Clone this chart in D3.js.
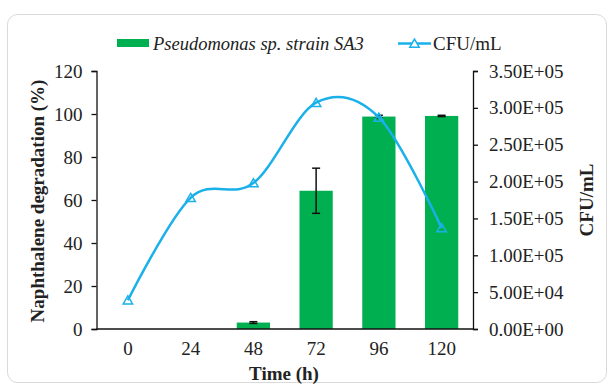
<!DOCTYPE html>
<html>
<head>
<meta charset="utf-8">
<script src="https://cdn.jsdelivr.net/npm/d3@7"></script>
</head>
<body style="margin:0">
<svg id="chart" width="609" height="387"></svg>
<script>
// data
const times = ['0', '24', '48', '72', '96', '120'];
const degradation = [null, null, 3, 64.3, 98.8, 99.1];
const degradationErr = [null, null, 0.4, 10.5, 0.6, 0.3];
const cfu = [39000, 178000, 198000, 307000, 287000, 137000];
const leftTicks = [0, 20, 40, 60, 80, 100, 120];
const rightTicks = [0, 50000, 100000, 150000, 200000, 250000, 300000, 350000];

const svg = d3.select('#chart');
const margin = { left: 96.5, right: 136, top: 71, bottom: 58 };
const width = 609, height = 387;
const serif = '"Liberation Serif"';
const ink = '#222';
const blue = '#1ab0ea';

// chart frame
svg.append('rect')
    .attr('x', 7.5).attr('y', 14.5)
    .attr('width', 599).attr('height', 368)
    .attr('rx', 10)
    .attr('fill', '#fff')
    .attr('stroke', '#d9d9d9');

const x = d3.scaleBand()
    .domain(times)
    .range([margin.left, width - margin.right])
    .paddingInner(0.47).paddingOuter(0.235);

const xPoint = d => x(d) + x.bandwidth() / 2;

const yLeft = d3.scaleLinear().domain([0, 120]).range([height - margin.bottom, margin.top]);
const yRight = d3.scaleLinear().domain([0, 350000]).range([height - margin.bottom, margin.top]);

// bars
const barData = times.map((t, i) => ({ t, v: degradation[i], e: degradationErr[i] })).filter(d => d.v !== null);

svg.append('g')
    .selectAll('rect')
    .data(barData)
    .join('rect')
    .attr('x', d => x(d.t))
    .attr('y', d => yLeft(d.v))
    .attr('width', x.bandwidth())
    .attr('height', d => yLeft(0) - yLeft(d.v))
    .attr('fill', '#00b050');

// error bars
const err = svg.append('g').attr('stroke', '#111').attr('stroke-width', 1.5);
barData.forEach(d => {
    const cx = xPoint(d.t);
    const y1 = yLeft(d.v + d.e), y2 = yLeft(d.v - d.e);
    err.append('line').attr('x1', cx).attr('x2', cx).attr('y1', y1).attr('y2', y2);
    err.append('line').attr('x1', cx - 4).attr('x2', cx + 4).attr('y1', y1).attr('y2', y1);
    err.append('line').attr('x1', cx - 4).attr('x2', cx + 4).attr('y1', y2).attr('y2', y2);
});

// axes
const leftAxis = svg.append('g')
    .attr('transform', `translate(${margin.left},0)`)
    .call(d3.axisLeft(yLeft).tickValues(leftTicks).tickSize(5).tickPadding(9));

const rightAxis = svg.append('g')
    .attr('transform', `translate(${width - margin.right},0)`)
    .call(d3.axisRight(yRight).tickValues(rightTicks).tickSize(5).tickPadding(11)
        .tickFormat(d => {
            const s = d.toExponential(2).toUpperCase();
            return s.replace(/E([+-])(\d)$/, 'E$10$2');
        }));

const bottomAxis = svg.append('g')
    .attr('transform', `translate(0,${height - margin.bottom})`)
    .call(d3.axisBottom(x).tickSize(0).tickPadding(13));

[leftAxis, rightAxis, bottomAxis].forEach(g => {
    g.attr('font-family', null).attr('font-size', null);
    g.select('.domain').attr('stroke', '#111').attr('stroke-width', 1.3);
    g.selectAll('.tick line').attr('stroke', '#111').attr('stroke-width', 1.3);
    g.selectAll('text')
        .attr('fill', ink)
        .attr('font-size', 19)
        .style('font-family', serif);
});
bottomAxis.select('.domain').attr('d', `M${margin.left},0H${width - margin.right}`);

// CFU line
const line = d3.line()
    .x((d, i) => xPoint(times[i]))
    .y(d => yRight(d))
    .curve(d3.curveCardinal.tension(0));

svg.append('path')
    .datum(cfu)
    .attr('d', line)
    .attr('fill', 'none')
    .attr('stroke', blue)
    .attr('stroke-width', 2.5);

const tri = d3.symbol().type(d3.symbolTriangle).size(38);
svg.append('g')
    .selectAll('path')
    .data(cfu)
    .join('path')
    .attr('d', tri)
    .attr('transform', (d, i) => `translate(${xPoint(times[i])},${yRight(d) + 1})`)
    .attr('fill', 'none')
    .attr('stroke', blue)
    .attr('stroke-width', 1.5);

// axis titles
svg.append('text')
    .attr('x', 284).attr('y', 380)
    .attr('text-anchor', 'middle')
    .attr('font-size', 19).attr('font-weight', 'bold').attr('fill', ink)
    .style('font-family', serif)
    .text('Time (h)');

svg.append('text')
    .attr('transform', 'translate(44,201) rotate(-90)')
    .attr('text-anchor', 'middle')
    .attr('font-size', 19).attr('font-weight', 'bold').attr('fill', ink)
    .style('font-family', serif)
    .text('Naphthalene degradation (%)');

svg.append('text')
    .attr('transform', 'translate(593,200) rotate(-90)')
    .attr('text-anchor', 'middle')
    .attr('font-size', 19).attr('font-weight', 'bold').attr('fill', ink)
    .style('font-family', serif)
    .text('CFU/mL');

// legend
svg.append('rect')
    .attr('x', 117).attr('y', 39).attr('width', 32).attr('height', 8)
    .attr('fill', '#00b050');
svg.append('text')
    .attr('x', 153).attr('y', 50)
    .attr('font-size', 18.5).attr('font-style', 'italic').attr('fill', ink)
    .style('font-family', serif)
    .text('Pseudomonas sp. strain SA3');
svg.append('line')
    .attr('x1', 398).attr('x2', 431).attr('y1', 43.5).attr('y2', 43.5)
    .attr('stroke', blue).attr('stroke-width', 2.5);
svg.append('path')
    .attr('d', tri)
    .attr('transform', 'translate(414.5,44.5)')
    .attr('fill', '#fff')
    .attr('stroke', blue)
    .attr('stroke-width', 1.5);
svg.append('text')
    .attr('x', 433).attr('y', 50)
    .attr('font-size', 19).attr('fill', ink)
    .style('font-family', serif)
    .text('CFU/mL');
</script>
</body>
</html>
